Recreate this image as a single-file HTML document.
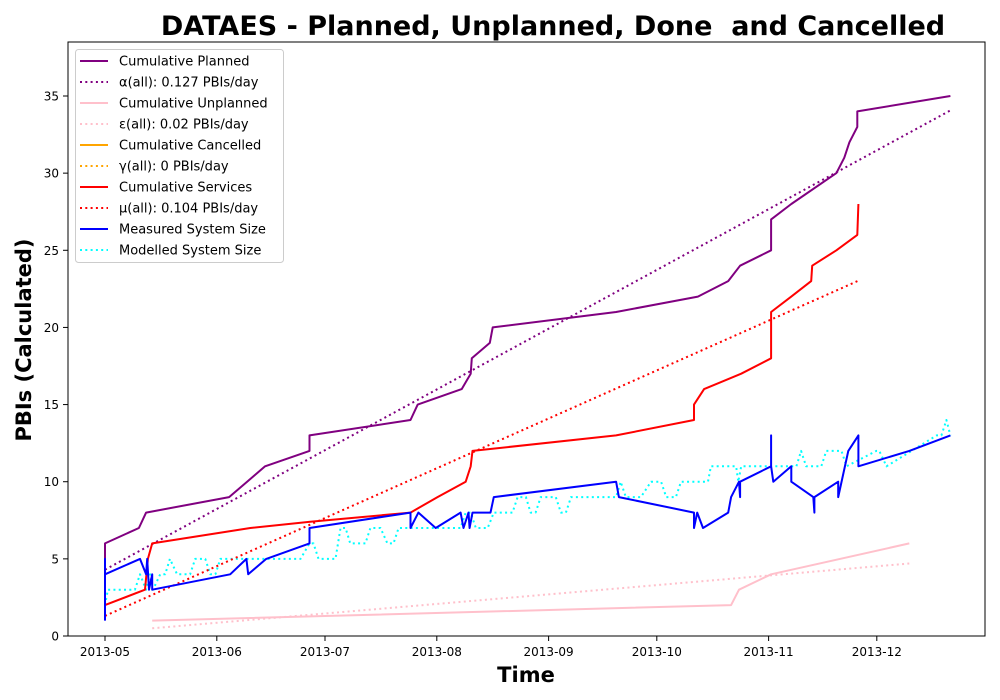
<!DOCTYPE html>
<html><head><meta charset="utf-8"><style>
body{margin:0;background:#fff;}
svg{display:block;font-family:"DejaVu Sans","Liberation Sans",sans-serif;}
</style></head><body>
<svg id="chart" width="1000" height="700" xmlns="http://www.w3.org/2000/svg">
<rect width="1000" height="700" fill="#fff"/>
<text x="553" y="35" text-anchor="middle" font-size="27" font-weight="bold">DATAES - Planned, Unplanned, Done&#160; and Cancelled</text>
<text x="526" y="682" text-anchor="middle" font-size="21" font-weight="bold">Time</text>
<text transform="translate(31,340) rotate(-90)" text-anchor="middle" font-size="21" font-weight="bold">PBIs (Calculated)</text>
<g id="marks"></g>
<g id="axes"></g>
<rect x="68" y="42" width="917" height="594" fill="none" stroke="#000" stroke-width="1"/>
<g id="legend"></g>
</svg>
<script>
const monthTicks=[0,31,61,92,123,153,184,214];
const monthLabels=["2013-05","2013-06","2013-07","2013-08","2013-09","2013-10","2013-11","2013-12"];
const yTicks=[0,5,10,15,20,25,30,35];
const plannedDays=[0,0,9.4,11.4,34.4,39.4,44.4,56.7,56.7,84.7,86.7,98.9,101.4,101.7,106.7,107.5,141.7,164.4,172.8,176.1,184.7,184.7,190.3,202.8,205,206.4,208.6,208.6,234.4];
const plannedVals=[5,6,7,8,9,10,11,12,13,14,15,16,17,18,19,20,21,22,23,24,25,27,28,30,31,32,33,34,35];
const alphaRate=0.127, alphaStart=4.3, alphaDays=[0,234.4];
const unplannedDays=[13.1,173.6,175.8,184.7,223];
const unplannedVals=[1,2,3,4,6];
const epsRate=0.02, epsStart=0.5, epsDays=[13.1,223];
const servicesDays=[0,11.1,11.9,13.1,40.3,56.9,84.7,92.2,100,101.4,101.9,141.7,163.3,163.3,166.1,176.4,184.7,184.7,190.3,195.8,196.1,202.8,208.6,208.9];
const servicesVals=[2,3,5,6,7,7.4,8,9,10,11,12,13,14,15,16,17,18,21,22,23,24,25,26,28];
const muRate=0.104, muStart=1.3, muDays=[0,208.9];
const measuredDays=[0,0,0,9.7,11.4,11.7,12.2,13.1,13.1,34.7,39.2,39.7,44.7,56.7,56.7,84.7,84.7,86.9,91.7,98.6,99.4,100.8,101.1,101.9,106.9,107.8,141.7,142.5,163.3,163.3,164.2,165.8,172.8,173.6,175.8,176.1,176.1,184.7,184.7,184.7,185.3,190.3,190.3,196.4,196.7,196.7,203.3,203.3,206.1,208.9,208.9,223,234.4];
const measuredVals=[1,5,4,5,4,5,3,4,3,4,5,4,5,6,7,8,7,8,7,8,7,8,7,8,8,9,10,9,8,7,8,7,8,9,10,9,10,11,13,11,10,11,10,9,8,9,10,9,12,13,11,12,13];
const modelledDays=[0,0.8,8.3,9.7,11.4,12.5,13.3,15.3,16.7,18,20,23.6,25,27.8,29.2,30.6,32,54.2,56.7,57.8,59.2,63.9,65.3,66.7,68,72.2,73.6,76.4,78.3,80,81.4,98.6,100,101.4,102.8,106.1,107.8,113,114.4,116.7,118,119.4,120.8,125,126.4,127.8,129.2,141.7,143,144.4,148.6,151.4,154.2,155.6,158.3,159.7,167.2,168,175,175.6,176.4,191.7,193,194.4,198.6,200,204.2,205.6,213.9,214.7,216.7,230.6,231.9,233.3,234.4];
const modelledVals=[2,3,3,4,3,4,3,4,4,5,4,4,5,5,4,4,5,5,6,6,5,5,7,7,6,6,7,7,6,6,7,7,8,8,7,7,8,8,9,9,8,8,9,9,8,8,9,9,10,9,9,10,10,9,9,10,10,11,11,10,11,11,12,11,11,12,12,11,12,12,11,13,13,14,13];

const X0=-10.26,X1=244.0,PX0=68,PX1=985;
const Y0=0,Y1=38.5,PY0=636,PY1=42;
function xs(d){return PX0+(d-X0)/(X1-X0)*(PX1-PX0);}
function ys(v){return PY0+(v-Y0)/(Y1-Y0)*(PY1-PY0);}
const NS="http://www.w3.org/2000/svg";
const marks=document.getElementById('marks'),axes=document.getElementById('axes'),legend=document.getElementById('legend');
function mk(tag,attrs,parent){const e=document.createElementNS(NS,tag);for(const k in attrs)e.setAttribute(k,attrs[k]);parent.appendChild(e);return e;}
function series(days,vals,color,dotted,name){
  const pts=days.map((d,i)=>xs(d).toFixed(1)+","+ys(vals[i]).toFixed(1)).join(" ");
  const p=mk('polyline',{points:pts,fill:'none',stroke:color,'stroke-width':2,'stroke-linejoin':'round'},marks);
  if(dotted){p.setAttribute('stroke-dasharray','2,3.3');}
  
  
}
function rateLine(days,start,rate,color,name){
  series(days,days.map(d=>start+rate*(d-days[0])),color,true,name);
}
rateLine(epsDays,epsStart,epsRate,'pink','epsilon-trend');
series(unplannedDays,unplannedVals,'pink',false,'cumulative-unplanned-line');
series(modelledDays,modelledVals,'cyan',true,'modelled-system-size-line');
rateLine(alphaDays,alphaStart,alphaRate,'purple','alpha-trend');
series(plannedDays,plannedVals,'purple',false,'cumulative-planned-line');
rateLine(muDays,muStart,muRate,'red','mu-trend');
series(servicesDays,servicesVals,'red',false,'cumulative-services-line');
series(measuredDays,measuredVals,'blue',false,'measured-system-size-line');

monthTicks.forEach((d,i)=>{
  const x=xs(d);
  const t=mk('line',{x1:x,x2:x,y1:636,y2:641,stroke:'#000'},axes);
  
  
  const l=mk('text',{x:x,y:656,'text-anchor':'middle','font-size':12},axes);
  l.textContent=monthLabels[i];
  
  
});
yTicks.forEach(v=>{
  const y=ys(v);
  const t=mk('line',{x1:63,x2:68,y1:y,y2:y,stroke:'#000'},axes);
  
  
  const l=mk('text',{x:59,y:y+4.5,'text-anchor':'end','font-size':12},axes);
  l.textContent=v;
  
  
});
const legLabels=["Cumulative Planned","α(all): 0.127 PBIs/day","Cumulative Unplanned","ε(all): 0.02 PBIs/day","Cumulative Cancelled","γ(all): 0 PBIs/day","Cumulative Services","μ(all): 0.104 PBIs/day","Measured System Size","Modelled System Size"];
const legColors=['purple','purple','pink','pink','orange','orange','red','red','blue','cyan'];
const bx=mk('rect',{x:75.5,y:49.5,width:208,height:213,rx:3,fill:'#fff','fill-opacity':0.85,stroke:'#ccc'},legend);


legLabels.forEach((s,i)=>{
  const y=61+i*21;
  const ln=mk('line',{x1:80,x2:108,y1:y,y2:y,stroke:legColors[i],'stroke-width':2},legend);
  if(i%2===1||i===9)ln.setAttribute('stroke-dasharray','2,3.3');
  
  
  const t=mk('text',{x:119,y:y+4.5,'font-size':13},legend);
  t.textContent=s;
  
  
});
</script>
</body></html>
